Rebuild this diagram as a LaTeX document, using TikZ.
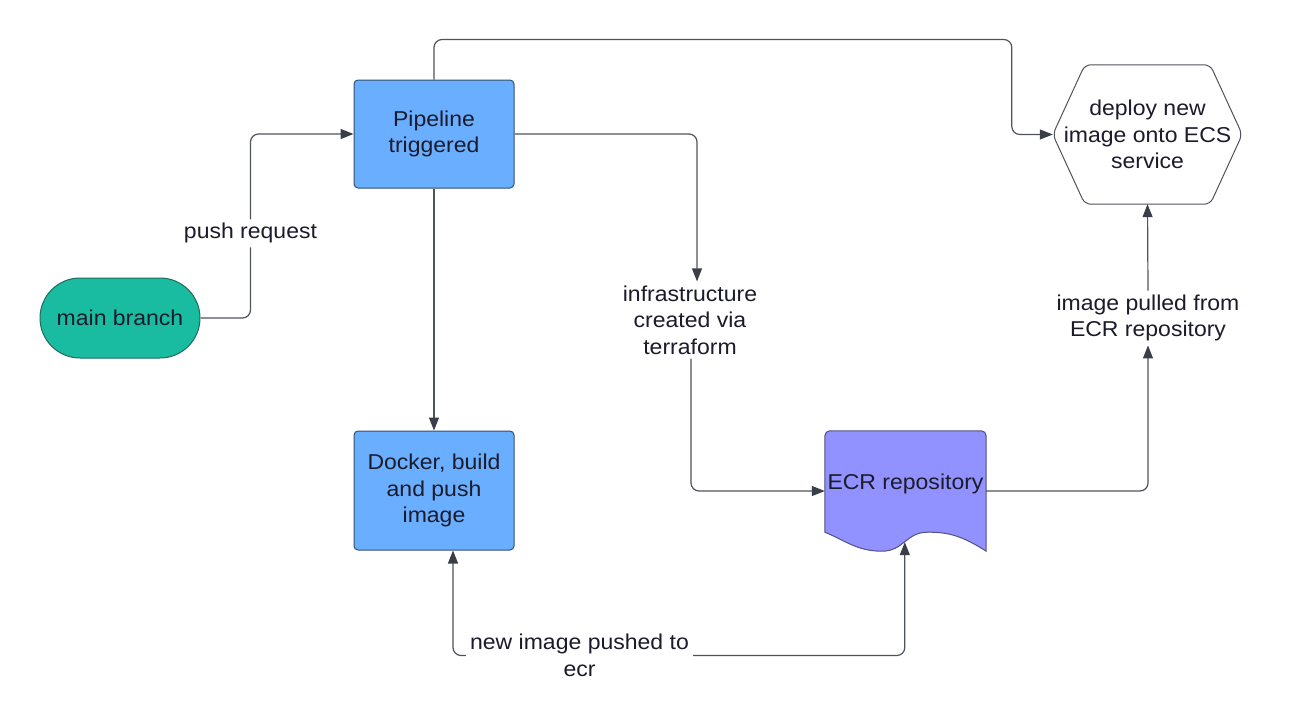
\documentclass[tikz,border=0pt]{standalone}
\usepackage{fontspec}
\setmainfont{Liberation Sans}[FakeStretch=1.07]
\usetikzlibrary{arrows.meta,calc,backgrounds}
\definecolor{tealf}{HTML}{19BCA0}
\definecolor{teald}{HTML}{1F6B5E}
\definecolor{bluef}{HTML}{6AAEFF}
\definecolor{blued}{HTML}{34506E}
\definecolor{purpf}{HTML}{9191FF}
\definecolor{purpd}{HTML}{52527E}
\definecolor{linec}{HTML}{4F535A}
\definecolor{tipc}{HTML}{3A3F47}
\definecolor{txt}{HTML}{1B1B2B}
\begin{document}
\begin{tikzpicture}[x=1pt,y=-1pt,
  font=\fontsize{21.5}{26.5}\selectfont, text=txt,
  term/.style={draw=teald, line width=1pt, fill=tealf, rounded corners=40pt, minimum width=160pt, minimum height=80pt, inner sep=0pt},
  proc/.style={draw=blued, line width=1pt, fill=bluef, rounded corners=4pt, minimum width=160pt, align=center, inner sep=0pt},
  inv/.style={minimum width=#1, align=center, inner sep=0pt},
  lbl/.style={fill=white, align=center, inner sep=4pt},
  conn/.style={draw=linec, line width=1.2pt, rounded corners=8pt, -{Triangle[length=13pt,width=10pt,color=tipc]}},
  shapeline/.style={line width=1pt}
]
\useasboundingbox (0,0) rectangle (1308,725);

% nodes
\node[term] (main) at (120,318) {main branch};
\node[proc, minimum height=108pt] (pipe) at (434,134) {Pipeline\\triggered};
\node[proc, minimum height=119pt] (docker) at (434,490.5) {Docker, build\\and push\\image};
\node[inv=161pt, minimum height=120pt] (ecr) at (905.5,491) {\raisebox{7pt}[\height][\depth]{ECR repository}};
\node[inv=189pt, minimum height=139pt] (deploy) at (1147.5,134.5) {deploy new\\image onto ECS\\service};
\node[lbl] (infra) at (690,320) {infrastructure\\created via\\terraform};
\node[lbl] (pulled) at (1148,318) {image pulled from\\ECR repository};
\coordinate (ecrwave) at ($(ecr.south west)+(80,-9)$);

% shapes behind text
\begin{scope}[on background layer]
\draw[shapeline, draw=purpd, fill=purpf]
  ($(ecr.south west)+(0,-19)$) [rounded corners=5pt] -- (ecr.north west) -- (ecr.north east) -- ($(ecr.south east)+(0,-10)$) [sharp corners] -- (ecr.south east)
  .. controls +(-25,-16) and +(20,0) .. ($(ecr.south west)+(103,-19)$)
  .. controls +(-22,0) and +(22,0) .. ($(ecr.south west)+(57,0)$)
  .. controls +(-25,0) and +(20,8) .. cycle;
\draw[shapeline, draw=linec, fill=white, rounded corners=6pt]
  (deploy.west) -- ($(deploy.north west)+(32,0)$) -- ($(deploy.north east)+(-32,0)$) -- (deploy.east)
  -- ($(deploy.south east)+(-32,0)$) -- ($(deploy.south west)+(32,0)$) -- cycle;
\end{scope}

% connectors
\draw[conn] (main.east) -- ++(50,0) |- node[lbl, pos=0.23] {push request} (pipe.west);
\draw[conn] (pipe.north) -- ++(0,-40) -| ($(deploy.west)+(-41,0)$) -- (deploy.west);
\draw[conn] (pipe.east) -| ([xshift=7pt]infra.north);
\draw[conn] ([xshift=1pt]infra.south) |- (ecr.west);
\draw[conn] (pipe.south) -- (docker.north);
\draw[conn] (ecr.east) -| (pulled.south);
\draw[conn] (pulled.north) -- (deploy.south);
\draw[conn, {Triangle[length=13pt,width=10pt,color=tipc]}-{Triangle[length=13pt,width=10pt,color=tipc]}]
  ([xshift=19pt]docker.south) -- ++(0,105) -| node[lbl, pos=0.14] {new image pushed to\\ecr} (ecrwave);
\end{tikzpicture}
\end{document}
